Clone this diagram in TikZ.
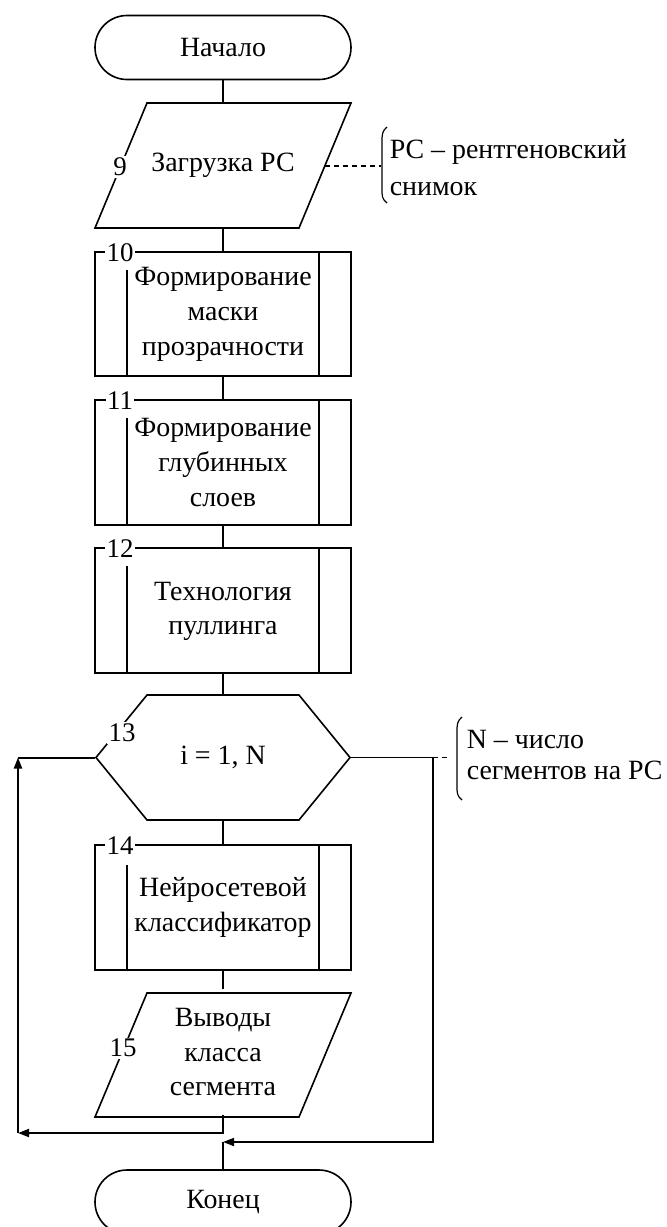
\documentclass[tikz,border=0pt]{standalone}
\usepackage{fontspec}
\setmainfont{Liberation Serif}
\usetikzlibrary{arrows.meta}
\begin{document}
\begin{tikzpicture}[x=1bp,y=-1bp,
  line width=1.6bp, line join=miter,
  mainfont/.style={font=\fontsize{28}{35}\selectfont},
  shapeframe/.style={mainfont, align=center, inner sep=0pt, minimum width=256bp, minimum height=#1},
  boxnode/.style={shapeframe=#1, draw},
  term/.style={draw, mainfont, rounded corners=32bp, minimum width=256bp, minimum height=64bp, inner sep=0pt},
  lbl/.style={fill=white, inner sep=1.5bp, font=\fontsize{27}{30}\selectfont},
  note/.style={font=\fontsize{28}{37}\selectfont, align=left, anchor=west, inner sep=0pt},
  arr/.style={-{Triangle[length=11bp,width=8bp]}},
  thickline/.style={line width=2bp},
  dashline/.style={dash pattern=on 5bp off 4bp, line width=1.4bp}
]
\useasboundingbox (0,0) rectangle (667,1227);

% Start
\node[term] (start) at (223,47.5) {Начало};

% 9: input parallelogram
\draw (147,103) -- (351,103) -- (299,228) -- (95,228) -- cycle;
\node[shapeframe=125bp] (p9) at (223,165.5) {Загрузка РС};
\node[lbl] (l9) at (120,167) {9};

% 10
\node[boxnode=124bp] (b10) at (223,314) {Формирование\\маски\\прозрачности};
\draw (127,270) -- (127,376);
\draw (319,252) -- (319,376);
\node[lbl] (l10) at (120,253) {10};

% 11
\node[boxnode=125bp] (b11) at (223,462.5) {Формирование\\глубинных\\слоев};
\draw (127,418) -- (127,525);
\draw (319,400) -- (319,525);
\node[lbl] (l11) at (120,401) {11};

% 12
\node[boxnode=125bp] (b12) at (223,610.5) {\raisebox{-4bp}{\begin{tabular}{@{}c@{}}Технология\\пуллинга\end{tabular}}};
\draw (127,566) -- (127,673);
\draw (319,548) -- (319,673);
\node[lbl] (l12) at (120,549) {12};

% 13: loop hexagon
\draw (96,757.5) -- (147,695) -- (299,695) -- (350,757.5) -- (299,820) -- (147,820) -- cycle;
\node[shapeframe=125bp, minimum width=254bp] (h13) at (223,757.5) {i = 1, N};
\node[lbl] (l13) at (122,733) {13};

% 14
\node[boxnode=125bp] (b14) at (223,907.5) {Нейросетевой\\классификатор};
\draw (127,865) -- (127,970);
\draw (319,845) -- (319,970);
\node[lbl] (l14) at (120,846) {14};

% 15: output parallelogram
\draw (147,993) -- (351,993) -- (299,1117) -- (95,1117) -- cycle;
\node[shapeframe=124bp] (p15) at (223,1052) {Выводы\\класса\\сегмента};
\node[lbl] (l15) at (123,1048) {15};

% End
\node[term] (stop) at (223,1202) {Конец};

% main connectors
\draw (start.south) -- (p9.north);
\draw (p9.south) -- (b10.north);
\draw (b10.south) -- (b11.north);
\draw (b11.south) -- (b12.north);
\draw (b12.south) -- (h13.north);
\draw (h13.south) -- (b14.north);
\draw (b14.south) -- (p15.north);

% loop back
\coordinate (cL) at (18,1133);
\coordinate (cT) at (18,757.5);
\draw[arr, thickline] (p15.south) |- (cL);
\draw[arr, thickline] (cL) -- (cT);
\draw[thickline] (cT) -- (h13.west);

% loop exit
\coordinate (cR) at (433,757.5);
\coordinate (cM) at (223,1142);
\draw[arr] (h13.east) -- (cR) |- (cM);
\draw (cM) -- (stop.north);

% comment 1
\coordinate (p9r) at (325,166);
\coordinate (br1) at (381,166);
\draw[dashline] (p9r) -- (br1);
\draw[line width=1.2bp] (387,127) .. controls (382,131) and (382,135) .. (382,142) -- (382,189) .. controls (382,196) and (382,199) .. (387,203);
\node[note] (n1) at (389,167.5) {РС – рентгеновский\\снимок};

% comment 2
\coordinate (br2) at (451,757.5);
\draw[dashline] (cR) -- (br2);
\draw[line width=1.2bp] (462,717) .. controls (457,721) and (457,725) .. (457,732) -- (457,786) .. controls (457,793) and (457,796) .. (462,800);
\node[note, font=\fontsize{28}{32}\selectfont] (n2) at (466,755) {N – число\\сегментов на РС};
\end{tikzpicture}
\end{document}
